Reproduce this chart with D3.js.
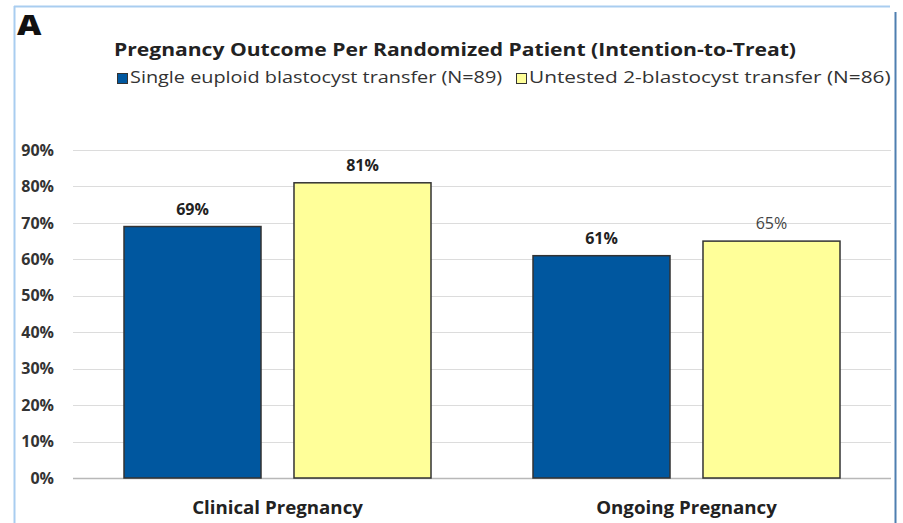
<!DOCTYPE html>
<html>
<head>
<meta charset="utf-8">
<script src="https://cdn.jsdelivr.net/npm/d3@7"></script>
<style>
  html, body { margin: 0; padding: 0; background: #fff; }
  svg { display: block; }
  text { font-family: "Open Sans", Lato, sans-serif; }
</style>
</head>
<body>
<svg id="chart" width="903" height="523"></svg>
<script>
// Pregnancy outcome per randomized patient
const categories = ["Clinical Pregnancy", "Ongoing Pregnancy"];
const seriesNames = [
  "Single euploid blastocyst transfer (N=89)",
  "Untested 2-blastocyst transfer (N=86)"
];
const singleEuploid = [69, 61];
const untestedTwo = [81, 65];
const yTicks = [0, 10, 20, 30, 40, 50, 60, 70, 80, 90];
const colors = ["#00579f", "#ffff99"];

const svg = d3.select("#chart");
const W = 903, H = 523;

// widen the glyphs of a text element horizontally by factor k
function widen(sel, k) {
  sel.each(function () {
    const len = this.getComputedTextLength();
    d3.select(this).attr("textLength", len * k).attr("lengthAdjust", "spacingAndGlyphs");
  });
  return sel;
}

// panel frame
svg.append("line").attr("x1", 14.5).attr("x2", 14.5).attr("y1", 6).attr("y2", H)
  .attr("stroke", "#a9cdf0").attr("stroke-width", 2);
svg.append("line").attr("x1", 14).attr("x2", 890).attr("y1", 6.5).attr("y2", 6.5)
  .attr("stroke", "#a9cdf0").attr("stroke-width", 2);
svg.append("line").attr("x1", 895.5).attr("x2", 895.5).attr("y1", 12).attr("y2", H)
  .attr("stroke", "#4f7fb0").attr("stroke-width", 2);

widen(svg.append("text").attr("x", 17).attr("y", 35)
  .attr("font-size", 28).attr("font-weight", 800).attr("fill", "#111").text("A"), 1.2);

widen(svg.append("text").attr("x", 455).attr("y", 56).attr("text-anchor", "middle")
  .attr("font-size", 17).attr("font-weight", 700).attr("fill", "#222")
  .text("Pregnancy Outcome Per Randomized Patient (Intention-to-Treat)"), 1.24);

// legend
const legendX = [117, 516];
const legendStretch = [1.24, 1.30];
seriesNames.forEach((name, i) => {
  const g = svg.append("g").attr("transform", `translate(${legendX[i]},73)`);
  g.append("rect").attr("x", 0.5).attr("y", 0.5).attr("width", 10).attr("height", 10)
    .attr("fill", colors[i]).attr("stroke", "#333").attr("stroke-width", 1);
  widen(g.append("text").attr("x", 13).attr("y", 10).attr("font-size", 16)
    .attr("fill", "#333").text(name), legendStretch[i]);
});

const margin = { left: 73, right: 891, top: 150, bottom: 478 };
const x0 = d3.scaleBand().domain(categories).range([margin.left, margin.right]).paddingInner(0).paddingOuter(0);
const x1 = d3.scaleBand().domain([0, 1]).range([51, x0.bandwidth() - 51]).paddingInner(0.194);
const y = d3.scaleLinear().domain([0, 90]).range([margin.bottom, margin.top]);

// gridlines
svg.append("g").selectAll("line").data(yTicks).join("line")
  .attr("x1", margin.left).attr("x2", margin.right)
  .attr("y1", d => Math.round(y(d)) + 0.5).attr("y2", d => Math.round(y(d)) + 0.5)
  .attr("stroke", d => d === 0 ? "#b8b8b8" : "#dcdcdc").attr("stroke-width", d => d === 0 ? 1.5 : 1.2);

// y axis labels
const yAxis = d3.axisLeft(y).tickValues(yTicks).tickFormat(d => d + "%").tickSize(0).tickPadding(0);
const ya = svg.append("g").attr("transform", "translate(54,0)").call(yAxis);
ya.select(".domain").remove();
ya.selectAll("text").attr("font-family", "'Open Sans', sans-serif").attr("font-size", 16)
  .attr("font-weight", 700).attr("fill", "#333");

// bars
const series = [singleEuploid, untestedTwo];
const groups = svg.append("g").selectAll("g").data(categories).join("g")
  .attr("transform", d => `translate(${x0(d)},0)`);

groups.each(function (cat, ci) {
  const g = d3.select(this);
  series.forEach((vals, si) => {
    const v = vals[ci];
    g.append("rect")
      .attr("x", x1(si)).attr("y", y(v))
      .attr("width", x1.bandwidth()).attr("height", y(0) - y(v))
      .attr("fill", colors[si]).attr("stroke", "#333").attr("stroke-width", 1.5);
    const lightLabel = (ci === 1 && si === 1);
    g.append("text")
      .attr("x", x1(si) + x1.bandwidth() / 2).attr("y", y(v) - 12)
      .attr("text-anchor", "middle").attr("font-size", 16)
      .attr("font-weight", lightLabel ? 400 : 700)
      .attr("fill", lightLabel ? "#444" : "#222")
      .text(v + "%");
  });
});

// category axis labels
const xAxis = d3.axisBottom(x0).tickSize(0).tickPadding(0);
const xa = svg.append("g").attr("transform", "translate(0,514)").call(xAxis);
xa.select(".domain").remove();
xa.selectAll("text").attr("dy", 0).attr("font-family", "'Open Sans', sans-serif")
  .attr("font-size", 17).attr("font-weight", 700).attr("fill", "#222");
widen(xa.selectAll("text"), 1.1);
</script>
</body>
</html>
